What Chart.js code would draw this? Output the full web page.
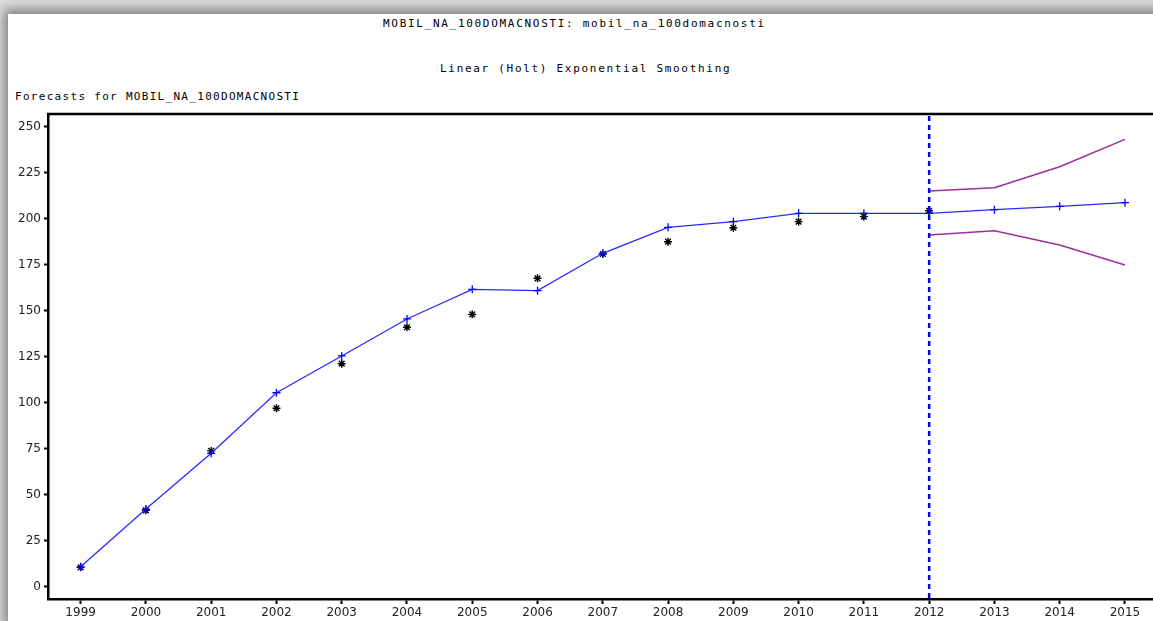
<!DOCTYPE html>
<html>
<head>
<meta charset="utf-8">
<script src="https://cdn.jsdelivr.net/npm/chart.js@4/dist/chart.umd.min.js"></script>
<style>
  html, body { margin: 0; padding: 0; width: 1153px; height: 621px; overflow: hidden; background: #dcdcdc; }
  .sheet { position: absolute; left: 8px; top: 14px; width: 1170px; height: 620px; background: #fff;
           box-shadow: -4px -5px 10px rgba(0,0,0,0.4); }
  .txt { position: absolute; font-family: "DejaVu Sans Mono", monospace; font-size: 11px; letter-spacing: 1.7px;
         color: #000; white-space: nowrap; line-height: 12px; }
  #wrap { position: absolute; left: 0; top: 0; width: 1163px; height: 621px; }
</style>
</head>
<body>
<div class="sheet"></div>
<div class="txt" style="left:383px; top:18px;">MOBIL_NA_100DOMACNOSTI: mobil_na_100domacnosti</div>
<div class="txt" style="left:440px; top:63px;">Linear (Holt) Exponential Smoothing</div>
<div class="txt" style="left:15px; top:91px; letter-spacing:1.3px;">Forecasts for MOBIL_NA_100DOMACNOSTI</div>
<div id="wrap"><canvas id="myChart" width="1163" height="621"></canvas></div>
<script>
const years = ['1999', '2000', '2001', '2002', '2003', '2004', '2005', '2006', '2007', '2008', '2009', '2010', '2011', '2012', '2013', '2014', '2015'];
const actual = [10.5, 41.5, 73.8, 97, 121.2, 141, 148, 167.6, 180.8, 187.5, 195.1, 198.4, 201.1, 204.3, null, null, null];
const fitted = [10.8, 42.2, 72.5, 105.4, 125.4, 145.5, 161.6, 160.9, 181.2, 195.3, 198.4, 202.9, 202.9, 202.9, 204.9, 206.7, 208.7];
const upper = [null, null, null, null, null, null, null, null, null, null, null, null, null, 215, 216.8, 228.2, 243.1];
const lower = [null, null, null, null, null, null, null, null, null, null, null, null, null, 191.1, 193.5, 185.7, 174.8];
const yTicks = [0, 25, 50, 75, 100, 125, 150, 175, 200, 225, 250];
const forecastStart = '2012';

// top frame line + dashed line where the forecast starts
const extras = {
  id: 'extras',
  afterDatasetsDraw(chart) {
    const c = chart.ctx;
    const a = chart.chartArea;
    c.save();
    c.strokeStyle = '#000';
    c.lineWidth = 2.5;
    c.beginPath();
    c.moveTo(a.left - 1, a.top);
    c.lineTo(a.right + 5, a.top);
    c.stroke();
    const x = chart.scales.x.getPixelForValue(years.indexOf(forecastStart));
    c.strokeStyle = '#0000ff';
    c.lineWidth = 2.5;
    c.setLineDash([5, 4]);
    c.beginPath();
    c.moveTo(x, a.top + 2);
    c.lineTo(x, a.bottom - 1);
    c.stroke();
    c.restore();
  }
};

const ctx = document.getElementById('myChart');
new Chart(ctx, {
  type: 'line',
  data: {
    labels: years,
    datasets: [
      {
        label: 'upper',
        data: upper,
        borderColor: '#9a2f9a',
        borderWidth: 1.5,
        pointRadius: 0,
        tension: 0
      },
      {
        label: 'lower',
        data: lower,
        borderColor: '#9a2f9a',
        borderWidth: 1.5,
        pointRadius: 0,
        tension: 0
      },
      {
        label: 'fitted',
        data: fitted,
        borderColor: '#2a2aff',
        borderWidth: 1.3,
        pointStyle: 'cross',
        pointRadius: 4,
        pointBorderColor: '#0000ff',
        pointBorderWidth: 1.3,
        tension: 0
      },
      {
        label: 'actual',
        data: actual,
        showLine: false,
        pointStyle: 'star',
        pointRadius: 4,
        pointBorderColor: '#000',
        pointBorderWidth: 1.4
      }
    ]
  },
  options: {
    responsive: false,
    animation: false,
    layout: { padding: { left: 0, right: 2, top: 114, bottom: 0 } },
    plugins: { legend: { display: false }, tooltip: { enabled: false } },
    scales: {
      x: {
        type: 'category',
        offset: true,
        afterFit(scale) { scale.height = 22; },
        grid: { display: true, drawOnChartArea: false, tickLength: 5, tickWidth: 2, tickColor: '#000', offset: false },
        border: { display: true, color: '#000', width: 2.5 },
        ticks: { color: '#222', padding: 2, maxRotation: 0, autoSkip: false, font: { family: 'DejaVu Sans', size: 12 } }
      },
      y: {
        min: -6.7,
        max: 256.9,
        afterFit(scale) { scale.width = 48; },
        afterBuildTicks(scale) { scale.ticks = yTicks.map(v => ({ value: v })); },
        grid: { display: true, drawOnChartArea: false, tickLength: 4, tickWidth: 2, tickColor: '#000' },
        border: { display: true, color: '#000', width: 2.5 },
        ticks: { color: '#222', padding: 3, font: { family: 'DejaVu Sans', size: 12 } }
      }
    }
  },
  plugins: [extras]
});
</script>
</body>
</html>
